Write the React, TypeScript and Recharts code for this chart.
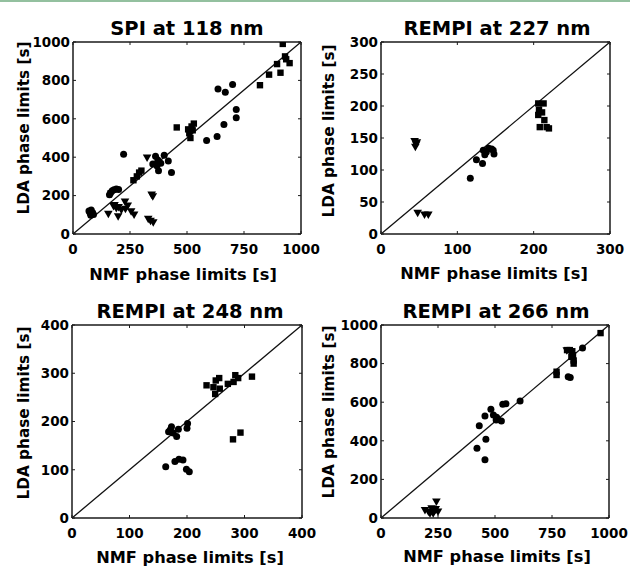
import React from 'react';
import { ScatterChart, Scatter, XAxis, YAxis, ReferenceLine } from 'recharts';

type P = { x: number; y: number };

// ---- Panel 1: SPI at 118 nm ----
const spiTicks = [0, 250, 500, 750, 1000];
const spiYTicks = [0, 200, 400, 600, 800, 1000];
const spiSquares: P[] = [
  { x: 85, y: 105 }, { x: 265, y: 280 }, { x: 280, y: 300 }, { x: 290, y: 320 }, { x: 300, y: 330 },
  { x: 455, y: 555 }, { x: 505, y: 545 }, { x: 510, y: 525 }, { x: 515, y: 500 }, { x: 520, y: 560 },
  { x: 530, y: 575 }, { x: 525, y: 540 }, { x: 820, y: 775 }, { x: 860, y: 830 }, { x: 910, y: 840 },
  { x: 895, y: 885 }, { x: 920, y: 990 }, { x: 935, y: 910 }, { x: 950, y: 890 }, { x: 930, y: 925 },
];
const spiCircles: P[] = [
  { x: 70, y: 120 }, { x: 75, y: 110 }, { x: 80, y: 125 }, { x: 85, y: 112 }, { x: 90, y: 102 }, { x: 78, y: 98 },
  { x: 165, y: 215 }, { x: 172, y: 225 }, { x: 180, y: 230 }, { x: 190, y: 235 }, { x: 200, y: 232 }, { x: 160, y: 205 },
  { x: 222, y: 415 }, { x: 350, y: 365 }, { x: 362, y: 405 }, { x: 372, y: 385 }, { x: 368, y: 355 }, { x: 375, y: 330 },
  { x: 400, y: 410 }, { x: 418, y: 380 }, { x: 432, y: 320 }, { x: 385, y: 368 }, { x: 586, y: 487 }, { x: 632, y: 508 },
  { x: 636, y: 755 }, { x: 668, y: 738 }, { x: 700, y: 778 }, { x: 716, y: 648 }, { x: 716, y: 605 }, { x: 662, y: 570 },
];
const spiTriangles: P[] = [
  { x: 155, y: 105 }, { x: 168, y: 210 }, { x: 178, y: 145 }, { x: 190, y: 135 }, { x: 198, y: 92 }, { x: 212, y: 125 },
  { x: 228, y: 168 }, { x: 240, y: 148 }, { x: 255, y: 118 }, { x: 268, y: 100 }, { x: 325, y: 398 }, { x: 345, y: 205 },
  { x: 350, y: 195 }, { x: 330, y: 78 }, { x: 340, y: 68 }, { x: 352, y: 60 }, { x: 182, y: 150 }, { x: 200, y: 140 },
  { x: 230, y: 130 },
];

// ---- Panel 2: REMPI at 227 nm ----
const r227XTicks = [0, 100, 200, 300];
const r227YTicks = [0, 50, 100, 150, 200, 250, 300];
const r227Squares: P[] = [
  { x: 206, y: 204 }, { x: 213, y: 204 }, { x: 207, y: 194 }, { x: 211, y: 190 }, { x: 206, y: 186 },
  { x: 214, y: 178 }, { x: 208, y: 167 }, { x: 217, y: 167 }, { x: 220, y: 165 },
];
const r227Circles: P[] = [
  { x: 117, y: 87 }, { x: 125, y: 116 }, { x: 133, y: 110 }, { x: 134, y: 131 }, { x: 136, y: 124 },
  { x: 141, y: 134 }, { x: 147, y: 131 }, { x: 148, y: 125 }, { x: 138, y: 128 }, { x: 145, y: 133 },
];
const r227Triangles: P[] = [
  { x: 44, y: 145 }, { x: 46, y: 140 }, { x: 45, y: 136 }, { x: 47, y: 143 },
  { x: 48, y: 33 }, { x: 57, y: 30 }, { x: 62, y: 30 },
];

// ---- Panel 3: REMPI at 248 nm ----
const r248Ticks = [0, 100, 200, 300, 400];
const r248Squares: P[] = [
  { x: 234, y: 275 }, { x: 246, y: 271 }, { x: 250, y: 285 }, { x: 256, y: 290 }, { x: 257, y: 268 },
  { x: 249, y: 257 }, { x: 271, y: 278 }, { x: 281, y: 282 }, { x: 284, y: 296 }, { x: 289, y: 290 },
  { x: 313, y: 293 }, { x: 280, y: 163 }, { x: 293, y: 177 },
];
const r248Circles: P[] = [
  { x: 173, y: 189 }, { x: 168, y: 179 }, { x: 171, y: 183 }, { x: 176, y: 176 }, { x: 182, y: 169 },
  { x: 185, y: 184 }, { x: 201, y: 196 }, { x: 200, y: 186 }, { x: 163, y: 106 }, { x: 179, y: 117 },
  { x: 186, y: 122 }, { x: 193, y: 120 }, { x: 199, y: 101 }, { x: 204, y: 96 },
];
const r248Triangles: P[] = [];

// ---- Panel 4: REMPI at 266 nm ----
const r266XTicks = [0, 250, 500, 750, 1000];
const r266YTicks = [0, 200, 400, 600, 800, 1000];
const r266Squares: P[] = [
  { x: 963, y: 958 }, { x: 816, y: 870 }, { x: 828, y: 870 }, { x: 839, y: 864 }, { x: 842, y: 843 },
  { x: 835, y: 835 }, { x: 845, y: 816 }, { x: 845, y: 800 }, { x: 770, y: 758 }, { x: 770, y: 741 },
];
const r266Circles: P[] = [
  { x: 884, y: 881 }, { x: 821, y: 732 }, { x: 830, y: 728 }, { x: 610, y: 606 }, { x: 534, y: 590 },
  { x: 548, y: 592 }, { x: 482, y: 563 }, { x: 456, y: 528 }, { x: 431, y: 478 }, { x: 493, y: 534 },
  { x: 507, y: 522 }, { x: 513, y: 511 }, { x: 528, y: 503 }, { x: 505, y: 508 }, { x: 460, y: 408 },
  { x: 421, y: 361 }, { x: 456, y: 302 },
];
const r266Triangles: P[] = [
  { x: 193, y: 41 }, { x: 208, y: 33 }, { x: 222, y: 50 }, { x: 243, y: 84 }, { x: 229, y: 24 },
  { x: 250, y: 33 }, { x: 215, y: 24 }, { x: 240, y: 45 }, { x: 235, y: 38 }, { x: 815, y: 868 },
  { x: 832, y: 862 },
];

const titles = ['SPI at 118 nm', 'REMPI at 227 nm', 'REMPI at 248 nm', 'REMPI at 266 nm'];
const xLabel = 'NMF phase limits [s]';
const yLabel = 'LDA phase limits [s]';

const FONT = 'DejaVu Sans';
const INK = '#000';

const Square = (props: any) => {
  const { cx, cy } = props;
  if (cx == null || cy == null) return null;
  return <rect x={cx - 3.2} y={cy - 3.2} width={6.4} height={6.4} fill={INK} />;
};
const Dot = (props: any) => {
  const { cx, cy } = props;
  if (cx == null || cy == null) return null;
  return <circle cx={cx} cy={cy} r={3.5} fill={INK} />;
};
const DownTri = (props: any) => {
  const { cx, cy } = props;
  if (cx == null || cy == null) return null;
  return <path d={`M${cx - 4.3},${cy - 3.2} L${cx + 4.3},${cy - 3.2} L${cx},${cy + 4.3} Z`} fill={INK} />;
};

type Cfg = {
  x0: number; x1: number; y0: number; y1: number;
  max: number; xTicks: number[]; yTicks: number[];
  squares: P[]; circles: P[]; triangles: P[];
};

const W = 630;
const H = 567;

const tickStyle = { fill: INK, fontSize: 13.5, fontWeight: 'bold', fontFamily: FONT } as any;

function Panel({ c }: { c: Cfg }) {
  const axisStroke = '#1a1a1a';
  const lineProps = { stroke: axisStroke, strokeWidth: 1.5 };
  return (
    <div style={{ position: 'absolute', left: 0, top: 0 }}>
      <ScatterChart
        width={W}
        height={H}
        margin={{ left: c.x0 - 1, right: W - c.x1 - 1, top: c.y0 - 1, bottom: H - c.y1 - 1 }}
      >
        <XAxis
          xAxisId="b" type="number" dataKey="x" domain={[0, c.max]} ticks={c.xTicks}
          orientation="bottom" height={1} tickSize={-3} tickMargin={13} interval={0}
          stroke={axisStroke} axisLine={lineProps} tickLine={{ stroke: axisStroke }}
          tick={tickStyle} allowDataOverflow
        />
        <XAxis
          xAxisId="t" type="number" dataKey="x" domain={[0, c.max]} ticks={c.xTicks}
          orientation="top" height={1} tickSize={-3} interval={0}
          stroke={axisStroke} axisLine={lineProps} tickLine={{ stroke: axisStroke }}
          tickFormatter={() => ''} allowDataOverflow
        />
        <YAxis
          yAxisId="l" type="number" dataKey="y" domain={[0, c.max]} ticks={c.yTicks}
          orientation="left" width={1} tickSize={-3} tickMargin={6} interval={0}
          stroke={axisStroke} axisLine={lineProps} tickLine={{ stroke: axisStroke }}
          tick={tickStyle} allowDataOverflow
        />
        <YAxis
          yAxisId="r" type="number" dataKey="y" domain={[0, c.max]} ticks={c.yTicks}
          orientation="right" width={1} tickSize={-3} interval={0}
          stroke={axisStroke} axisLine={lineProps} tickLine={{ stroke: axisStroke }}
          tickFormatter={() => ''} allowDataOverflow
        />
        <ReferenceLine
          xAxisId="b" yAxisId="l"
          segment={[{ x: 0, y: 0 }, { x: c.max, y: c.max }]}
          stroke="#111" strokeWidth={1.3}
        />
        <Scatter xAxisId="b" yAxisId="l" data={c.circles} shape={Dot} isAnimationActive={false} />
        <Scatter xAxisId="b" yAxisId="l" data={c.squares} shape={Square} isAnimationActive={false} />
        <Scatter xAxisId="b" yAxisId="l" data={c.triangles} shape={DownTri} isAnimationActive={false} />
      </ScatterChart>
    </div>
  );
}

const panels: Cfg[] = [
  { x0: 73, x1: 301, y0: 42, y1: 234, max: 1000, xTicks: spiTicks, yTicks: spiYTicks, squares: spiSquares, circles: spiCircles, triangles: spiTriangles },
  { x0: 381, x1: 610, y0: 42, y1: 234, max: 300, xTicks: r227XTicks, yTicks: r227YTicks, squares: r227Squares, circles: r227Circles, triangles: r227Triangles },
  { x0: 72, x1: 302, y0: 325, y1: 518, max: 400, xTicks: r248Ticks, yTicks: r248Ticks, squares: r248Squares, circles: r248Circles, triangles: r248Triangles },
  { x0: 381, x1: 609, y0: 325, y1: 518, max: 1000, xTicks: r266XTicks, yTicks: r266YTicks, squares: r266Squares, circles: r266Circles, triangles: r266Triangles },
];

const titlePos = [
  { x: 187, y: 35 }, { x: 497, y: 35 }, { x: 190, y: 318 }, { x: 496, y: 318 },
];
const xLabelPos = [
  { x: 183, y: 280 }, { x: 494, y: 279 }, { x: 190, y: 563 }, { x: 497, y: 562 },
];
const yLabelPos = [
  { x: 29, y: 128 }, { x: 334, y: 131 }, { x: 29, y: 413 }, { x: 334, y: 412 },
];

export default function App() {
  return (
    <div style={{ position: 'absolute', left: 0, top: 0, width: W, height: H, background: '#fff', overflow: 'hidden' }}>
      <div style={{ position: 'absolute', left: 0, top: 0, width: W, height: 2, background: '#93c09f' }} />
      {panels.map((c, i) => (
        <Panel key={i} c={c} />
      ))}
      <svg width={W} height={H} style={{ position: 'absolute', left: 0, top: 0, pointerEvents: 'none' }}>
        {titles.map((t, i) => (
          <text key={'t' + i} x={titlePos[i].x} y={titlePos[i].y} textAnchor="middle"
            fontFamily={FONT} fontWeight="bold" fontSize={19.5} fill={INK}>{t}</text>
        ))}
        {xLabelPos.map((p, i) => (
          <text key={'x' + i} x={p.x} y={p.y} textAnchor="middle"
            fontFamily={FONT} fontWeight="bold" fontSize={16.2} fill={INK}>{xLabel}</text>
        ))}
        {yLabelPos.map((p, i) => (
          <text key={'y' + i} x={p.x} y={p.y} textAnchor="middle" transform={`rotate(-90 ${p.x} ${p.y})`}
            fontFamily={FONT} fontWeight="bold" fontSize={15.3} fill={INK}>{yLabel}</text>
        ))}
      </svg>
    </div>
  );
}
